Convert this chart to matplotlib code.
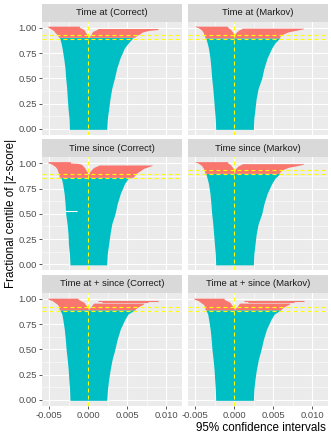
import matplotlib
matplotlib.use("Agg")
import matplotlib.pyplot as plt

plt.rcParams['font.family'] = ['Liberation Sans', 'DejaVu Sans']

W, H = 331, 437

# ---------------- data ----------------
PANEL_TITLES = ["Time at (Correct)", "Time at (Markov)",
                "Time since (Correct)", "Time since (Markov)",
                "Time at + since (Correct)", "Time at + since (Markov)"]

X_TICKS = [-0.005, 0.0, 0.005, 0.010]
X_TICK_LABELS = ["-0.005", "0.000", "0.005", "0.010"]
X_MINOR = [-0.0025, 0.0025, 0.0075]
Y_TICKS = [0.0, 0.25, 0.5, 0.75, 1.0]
Y_TICK_LABELS = ["0.00", "0.25", "0.50", "0.75", "1.00"]
Y_MINOR = [0.125, 0.375, 0.625, 0.875]

COVERAGE = [0.906, 0.900, 0.861, 0.900, 0.891, 0.891]
MC_LOWER = [0.889, 0.890, 0.859, 0.894, 0.880, 0.880]
MC_UPPER = [0.928, 0.928, 0.896, 0.933, 0.920, 0.920]

# centile grid of the covering (teal) intervals; last point = coverage
P_TEAL = [0.0, 0.1, 0.2, 0.3, 0.4, 0.5, 0.6, 0.7, 0.8, 0.85]

AT_C_TEAL_LO = [-0.00243, -0.00247, -0.0026, -0.00269, -0.00277, -0.0029, -0.00299, -0.00316, -0.00337, -0.0035, -0.00371]
AT_C_TEAL_HI = [0.00235, 0.00244, 0.00261, 0.00278, 0.003, 0.00334, 0.00364, 0.00406, 0.00462, 0.00513, 0.00577]
AT_M_TEAL_LO = [-0.00239, -0.00244, -0.00255, -0.00265, -0.00276, -0.0029, -0.003, -0.00312, -0.00332, -0.00348, -0.00367]
AT_M_TEAL_HI = [0.00244, 0.0025, 0.00265, 0.0028, 0.00305, 0.00351, 0.0038, 0.0042, 0.0048, 0.0052, 0.00586]
SI_C_TEAL_LO = [-0.00235, -0.00242, -0.00255, -0.0026, -0.00272, -0.0029, -0.00298, -0.0031, -0.0033, -0.00345, -0.0036]
SI_C_TEAL_HI = [0.00235, 0.00242, 0.0026, 0.00278, 0.003, 0.00342, 0.0037, 0.0041, 0.00465, 0.0051, 0.00569]
SI_M_TEAL_LO = [-0.00239, -0.00244, -0.00255, -0.00265, -0.00276, -0.0029, -0.003, -0.00312, -0.00332, -0.00348, -0.00367]
SI_M_TEAL_HI = [0.00244, 0.0025, 0.00265, 0.0028, 0.00305, 0.00351, 0.0038, 0.0042, 0.0048, 0.0052, 0.00586]
BO_C_TEAL_LO = [-0.00235, -0.0024, -0.0025, -0.00258, -0.0027, -0.00285, -0.00295, -0.00308, -0.00328, -0.0034, -0.00365]
BO_C_TEAL_HI = [0.00235, 0.00245, 0.0026, 0.0028, 0.00305, 0.0034, 0.0037, 0.0041, 0.0047, 0.0051, 0.00599]
BO_M_TEAL_LO = [-0.00239, -0.00243, -0.00252, -0.0026, -0.00272, -0.00287, -0.00297, -0.0031, -0.0033, -0.00342, -0.00365]
BO_M_TEAL_HI = [0.00244, 0.0025, 0.00264, 0.00283, 0.00308, 0.00343, 0.00373, 0.00413, 0.00473, 0.00513, 0.00599]

# non-covering intervals below zero (left) : centile, outer (lower) bound, inner (upper) bound
AT_C_LEFT_P = [0.906, 0.933, 0.956, 0.973, 0.983, 0.998, 1.003, 1.016]
AT_C_LEFT_OUT = [-0.0038, -0.00401, -0.0043, -0.00445, -0.00465, -0.005, -0.00517, -0.00517]
AT_C_LEFT_IN = [-0.00003, -0.00017, -0.00038, -0.00047, -0.00059, -0.00095, -0.00115, -0.00115]
AT_M_LEFT_P = [0.900, 0.923, 0.95, 0.976, 0.99, 1.0, 1.016]
AT_M_LEFT_OUT = [-0.00376, -0.00384, -0.00397, -0.00418, -0.0044, -0.00461, -0.00512]
AT_M_LEFT_IN = [0.0, -0.00005, -0.00015, -0.0004, -0.00055, -0.0008, -0.0009]
SI_C_LEFT_P = [0.861, 0.891, 0.917, 0.944, 0.967, 0.99, 0.999, 1.003, 1.016]
SI_C_LEFT_OUT = [-0.00372, -0.0038, -0.0039, -0.00401, -0.00423, -0.00465, -0.0049, -0.00517, -0.00517]
SI_C_LEFT_IN = [0.0, 0.0, -0.00017, -0.00038, -0.00059, -0.00089, -0.00132, -0.0023, -0.0023]
SI_M_LEFT_P = [0.900, 0.923, 0.95, 0.976, 0.99, 1.0, 1.016]
SI_M_LEFT_OUT = [-0.00376, -0.00384, -0.00397, -0.00418, -0.0044, -0.00461, -0.00512]
SI_M_LEFT_IN = [0.0, -0.00005, -0.00015, -0.0004, -0.00055, -0.0008, -0.0009]
BO_C_LEFT_P = [0.891, 0.905, 0.924, 0.944, 0.967, 0.983, 0.996, 1.006]
BO_C_LEFT_OUT = [-0.00372, -0.00378, -0.0038, -0.00395, -0.00436, -0.00465, -0.00517, -0.00517]
BO_C_LEFT_IN = [0.0, 0.0, -0.00017, -0.00038, -0.00059, -0.00102, -0.00132, -0.00132]
BO_M_LEFT_P = [0.891, 0.905, 0.924, 0.944, 0.967, 0.983, 0.996, 1.006]
BO_M_LEFT_OUT = [-0.00372, -0.00378, -0.0038, -0.00395, -0.00436, -0.00465, -0.00517, -0.00517]
BO_M_LEFT_IN = [0.0, 0.0, -0.00017, -0.00038, -0.00059, -0.00102, -0.00132, -0.00132]

# non-covering intervals above zero (right): centile, inner (lower) bound, outer (upper) bound
AT_C_RIGHT_P = [0.906, 0.926, 0.943, 0.956, 0.966, 0.976, 0.983, 0.993]
AT_C_RIGHT_IN = [0.00005, 0.00026, 0.00039, 0.00047, 0.0006, 0.0009, 0.00112, 0.00125]
AT_C_RIGHT_OUT = [0.00594, 0.00624, 0.00667, 0.00688, 0.00731, 0.00795, 0.00894, 0.00894]
AT_M_RIGHT_P = [0.900, 0.916, 0.94, 0.96, 0.976, 0.99, 0.996]
AT_M_RIGHT_IN = [0.0, 0.00005, 0.00009, 0.0003, 0.00053, 0.00095, 0.00095]
AT_M_RIGHT_OUT = [0.00575, 0.00586, 0.00629, 0.00693, 0.008, 0.00885, 0.00885]
SI_C_RIGHT_P = [0.861, 0.878, 0.891, 0.901, 0.917, 0.934, 0.95, 0.967, 0.973, 0.983]
SI_C_RIGHT_IN = [0.0, 0.00003, 0.00005, 0.0001, 0.00016, 0.00039, 0.00055, 0.0009, 0.00112, 0.0014]
SI_C_RIGHT_OUT = [0.00573, 0.00594, 0.00605, 0.00616, 0.00646, 0.0068, 0.0071, 0.00774, 0.008, 0.00825]
SI_M_RIGHT_P = [0.900, 0.916, 0.94, 0.96, 0.976, 0.99, 0.996]
SI_M_RIGHT_IN = [0.0, 0.00005, 0.00009, 0.0003, 0.00053, 0.00095, 0.00095]
SI_M_RIGHT_OUT = [0.00575, 0.00586, 0.00629, 0.00693, 0.008, 0.00885, 0.00885]
BO_C_RIGHT_P = [0.891, 0.908, 0.924, 0.94, 0.95, 0.957]
BO_C_RIGHT_IN = [0.0, 0.00015, 0.00035, 0.0005, 0.0006, 0.00069]
BO_C_RIGHT_OUT = [0.00594, 0.00616, 0.00646, 0.00688, 0.0071, 0.0071]
BO_M_RIGHT_P = [0.891, 0.908, 0.924, 0.94, 0.95, 0.957]
BO_M_RIGHT_IN = [0.0, 0.00015, 0.00035, 0.0005, 0.0006, 0.00069]
BO_M_RIGHT_OUT = [0.00594, 0.00616, 0.00646, 0.00688, 0.0071, 0.0071]

# isolated long non-covering intervals (centile, lower, upper)
BO_LONG_P = [0.982, 0.967]
BO_LONG_LO = [0.00126, 0.0017]
BO_LONG_HI = [0.00895, 0.0076]

# a blank row in "Time since (Correct)"
SI_C_BLANK_P = [0.531]
SI_C_BLANK_LO = [-0.00299]
SI_C_BLANK_HI = [-0.00149]

TEAL = "#00BFC4"
SALMON = "#F8766D"

panels = [
    (AT_C_TEAL_LO, AT_C_TEAL_HI, AT_C_LEFT_P, AT_C_LEFT_OUT, AT_C_LEFT_IN, AT_C_RIGHT_P, AT_C_RIGHT_IN, AT_C_RIGHT_OUT),
    (AT_M_TEAL_LO, AT_M_TEAL_HI, AT_M_LEFT_P, AT_M_LEFT_OUT, AT_M_LEFT_IN, AT_M_RIGHT_P, AT_M_RIGHT_IN, AT_M_RIGHT_OUT),
    (SI_C_TEAL_LO, SI_C_TEAL_HI, SI_C_LEFT_P, SI_C_LEFT_OUT, SI_C_LEFT_IN, SI_C_RIGHT_P, SI_C_RIGHT_IN, SI_C_RIGHT_OUT),
    (SI_M_TEAL_LO, SI_M_TEAL_HI, SI_M_LEFT_P, SI_M_LEFT_OUT, SI_M_LEFT_IN, SI_M_RIGHT_P, SI_M_RIGHT_IN, SI_M_RIGHT_OUT),
    (BO_C_TEAL_LO, BO_C_TEAL_HI, BO_C_LEFT_P, BO_C_LEFT_OUT, BO_C_LEFT_IN, BO_C_RIGHT_P, BO_C_RIGHT_IN, BO_C_RIGHT_OUT),
    (BO_M_TEAL_LO, BO_M_TEAL_HI, BO_M_LEFT_P, BO_M_LEFT_OUT, BO_M_LEFT_IN, BO_M_RIGHT_P, BO_M_RIGHT_IN, BO_M_RIGHT_OUT),
]

# ---------------- layout ----------------
fig = plt.figure(figsize=(W / 100, H / 100), dpi=100)

COL_X = [(42.0, 182.0), (188.0, 328.0)]
ROW_Y = [(3.5, 21.5, 134.5), (139.0, 157.0, 270.0), (274.5, 292.5, 405.5)]
XLIM = (-0.00594, 0.01201)
YLIM = (-0.055, 1.062)

def box(x0, x1, y0, y1):
    return [x0 / W, 1 - y1 / H, (x1 - x0) / W, (y1 - y0) / H]

PX = 72 / 100  # points per pixel
TICK_FS = 6.8
DASH = (0, (3.6, 2.7))

for i, (tlo, thi, lp, lout, lin, rp, rin, rout) in enumerate(panels):
    r, c = divmod(i, 2)
    x0, x1 = COL_X[c]
    sy0, py0, py1 = ROW_Y[r]

    # strip
    sax = fig.add_axes(box(x0, x1, sy0, py0))
    sax.set_facecolor("#D9D9D9")
    sax.set_xticks([]); sax.set_yticks([])
    for s in sax.spines.values():
        s.set_visible(False)
    sax.text(0.5, 0.48, PANEL_TITLES[i], ha="center", va="center",
             fontsize=TICK_FS, color="#1A1A1A", transform=sax.transAxes)

    ax = fig.add_axes(box(x0, x1, py0, py1))
    ax.set_facecolor("#EBEBEB")
    for s in ax.spines.values():
        s.set_visible(False)
    ax.set_xlim(*XLIM)
    ax.set_ylim(*YLIM)
    ax.set_xticks(X_TICKS)
    ax.set_xticks(X_MINOR, minor=True)
    ax.set_yticks(Y_TICKS)
    ax.set_yticks(Y_MINOR, minor=True)
    ax.set_xticklabels(X_TICK_LABELS)
    ax.set_yticklabels(Y_TICK_LABELS)
    ax.grid(which="major", color="white", lw=1.1 * PX)
    ax.grid(which="minor", color="white", lw=0.55 * PX)
    ax.set_axisbelow(True)
    ax.tick_params(which="minor", length=0)
    ax.tick_params(which="major", length=2.75 * PX, width=0.8 * PX, color="#333333",
                   labelsize=TICK_FS, labelcolor="#4D4D4D", pad=1.8)
    if c == 1:
        ax.tick_params(axis="y", left=False, labelleft=False)
    if r < 2:
        ax.tick_params(axis="x", bottom=False, labelbottom=False)

    cov = COVERAGE[i]
    pt = P_TEAL + [cov]
    pt = [-0.004] + pt[1:]
    ax.fill_betweenx(pt, tlo, thi, color=TEAL, lw=0, zorder=2)
    ax.fill_betweenx(lp, lout, lin, color=SALMON, lw=0, zorder=2)
    ax.fill_betweenx(rp, rin, rout, color=SALMON, lw=0, zorder=2)
    if r == 2:
        ax.hlines(BO_LONG_P, BO_LONG_LO, BO_LONG_HI, color=SALMON, lw=1.1 * PX, zorder=2)
    if i == 2:
        ax.hlines(SI_C_BLANK_P, SI_C_BLANK_LO, SI_C_BLANK_HI, color="white", lw=1.1 * PX, zorder=2.5)

    ax.axvline(0, color="yellow", lw=0.8, ls=DASH, zorder=3)
    ax.axhline(MC_LOWER[i], color="yellow", lw=0.8, ls=DASH, zorder=3)
    ax.axhline(MC_UPPER[i], color="yellow", lw=0.8, ls=DASH, zorder=3)

fig.text(11 / W, 1 - 213 / H, "Fractional centile of |z-score|", rotation=90,
         ha="center", va="center", fontsize=8.4, color="black")
fig.text(261 / W, 1 - 428 / H, "95% confidence intervals",
         ha="center", va="center", fontsize=8.4, color="black")

fig.savefig("out.png", dpi=100, facecolor="white")
